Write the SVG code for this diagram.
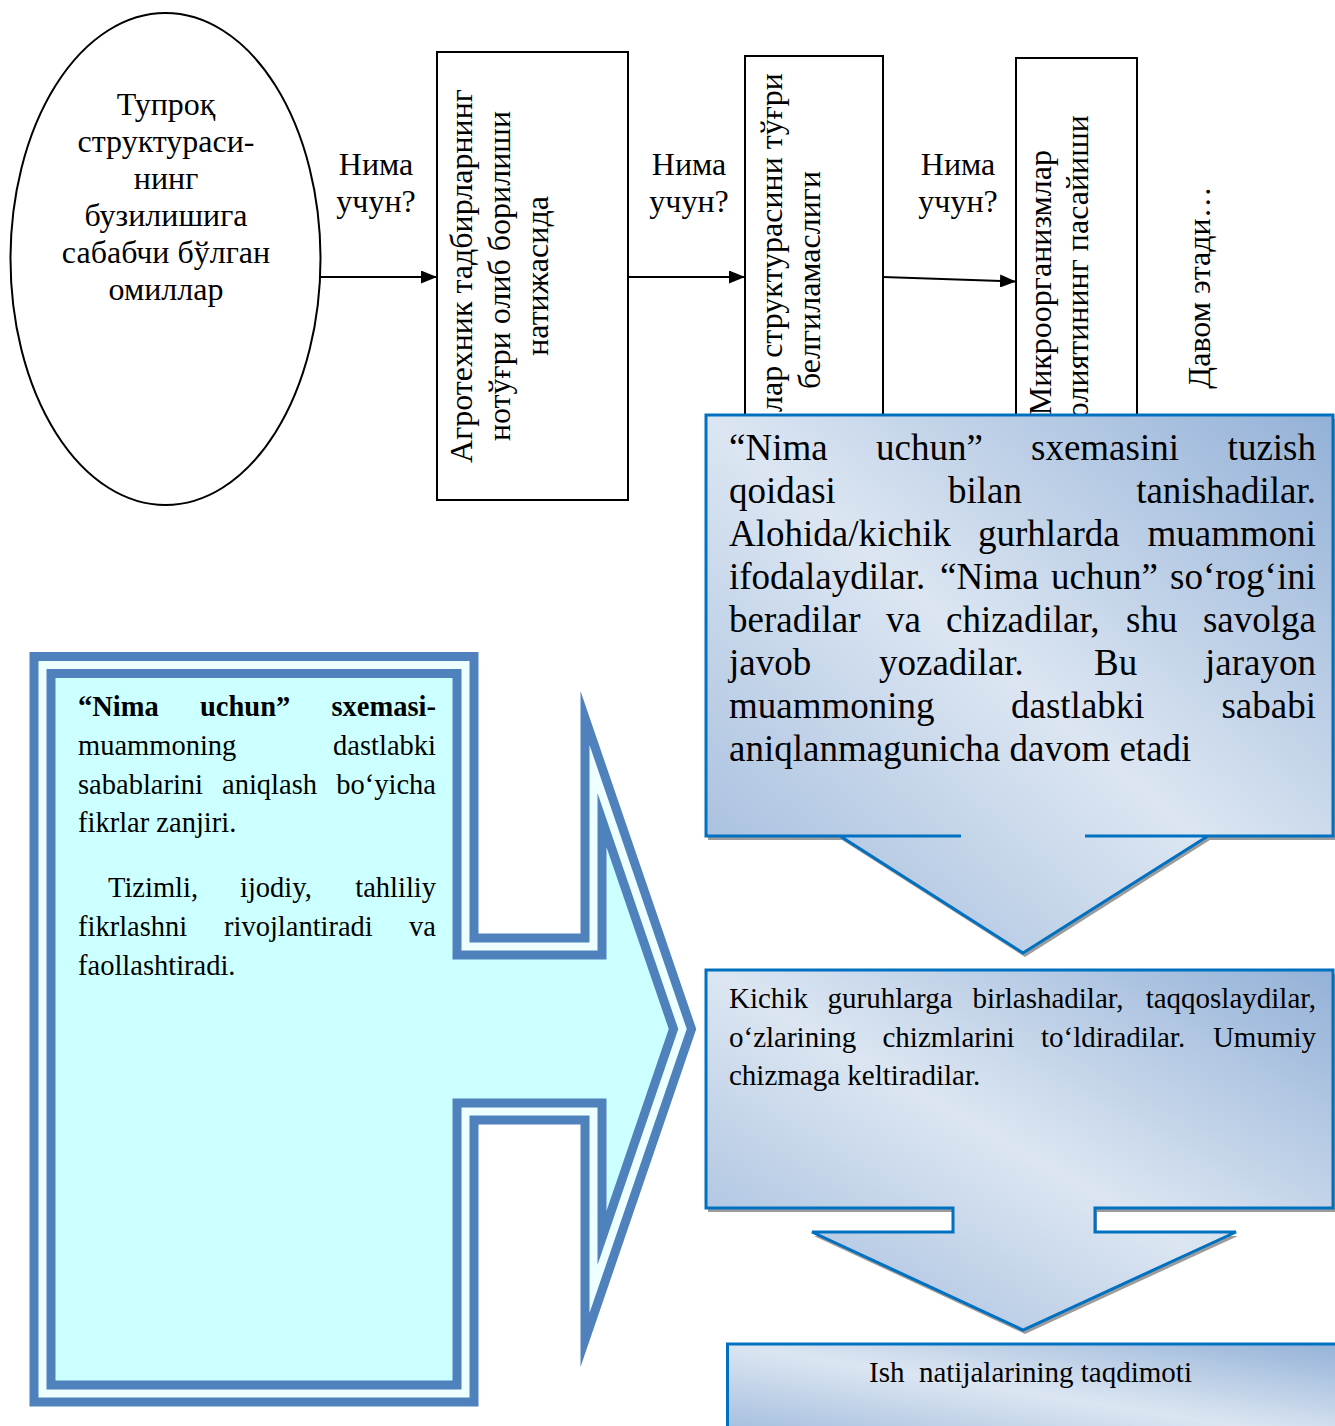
<svg xmlns="http://www.w3.org/2000/svg" width="1335" height="1426" viewBox="0 0 1335 1426">
<defs>
<linearGradient id="blueGrad" x1="0" y1="1" x2="1" y2="0">
<stop offset="0" stop-color="#9DB8DB"/>
<stop offset="0.5" stop-color="#DCE6F2"/>
<stop offset="1" stop-color="#93B1D7"/>
</linearGradient>
<marker id="arrow" markerWidth="16" markerHeight="13" refX="16" refY="6.5" orient="auto" markerUnits="userSpaceOnUse">
<path d="M0,0 L16,6.5 L0,13 Z" fill="#000"/>
</marker>
</defs>
<style>
text { font-family: "Liberation Serif", "Times New Roman", serif; fill: #000; }
.c32 { font-size: 32px; }
.c37 { font-size: 37px; }
.c29 { font-size: 29px; }
.c285 { font-size: 28.5px; }
.mid { text-anchor: middle; }
.end { text-anchor: end; }
.box { fill: #fff; stroke: #000; stroke-width: 2; }
.callout { fill: url(#blueGrad); stroke: #0070C0; stroke-width: 3; stroke-linejoin: miter; }
.shadow { fill: #9C9C9C; }
.conn { stroke: #000; stroke-width: 2.2; fill: none; marker-end: url(#arrow); }
.b { font-weight: bold; }
</style>

<!-- Top chain -->
<g id="node-ellipse">
<ellipse cx="165.5" cy="259" rx="155" ry="246" fill="#fff" stroke="#000" stroke-width="2"/>
<text class="c32 mid" x="166" y="115">Тупроқ</text>
<text class="c32 mid" x="166" y="152">структураси-</text>
<text class="c32 mid" x="166" y="189">нинг</text>
<text class="c32 mid" x="166" y="226">бузилишига</text>
<text class="c32 mid" x="166" y="263">сабабчи бўлган</text>
<text class="c32 mid" x="166" y="300">омиллар</text>
</g>

<g id="node-box1">
<rect class="box" x="437" y="52" width="191" height="448"/>
<text class="c32 mid" transform="translate(471.5,276) rotate(-90)">Агротехник тадбирларнинг</text>
<text class="c32 mid" transform="translate(510,276) rotate(-90)">нотўғри олиб борилиши</text>
<text class="c32 mid" transform="translate(548,276) rotate(-90)">натижасида</text>
</g>

<g id="node-box2">
<rect class="box" x="745" y="56" width="138" height="448"/>
<text class="c32 end" transform="translate(782,73) rotate(-90)">лар структурасини тўғри</text>
<text class="c32 mid" transform="translate(820,280) rotate(-90)">белгиламаслиги</text>
</g>

<g id="node-box3">
<rect class="box" x="1016" y="58" width="121" height="448"/>
<text class="c32 end" transform="translate(1051,150) rotate(-90)">Микроорганизмлар</text>
<text class="c32 end" transform="translate(1088,115) rotate(-90)">олиятининг пасайиши</text>
</g>

<g id="node-continue">
<text class="c32 mid" transform="translate(1210,287.5) rotate(-90)">Давом этади…</text>
</g>

<g id="connectors">
<line class="conn" x1="321" y1="277" x2="437" y2="277"/>
<line class="conn" x1="628" y1="277" x2="745" y2="277"/>
<line class="conn" x1="883" y1="277" x2="1016" y2="281.5"/>
</g>

<g id="labels">
<text class="c32 mid"><tspan x="376" y="175">Нима</tspan><tspan x="376" y="212">учун?</tspan></text>
<text class="c32 mid"><tspan x="689" y="175">Нима</tspan><tspan x="689" y="212">учун?</tspan></text>
<text class="c32 mid"><tspan x="958" y="175">Нима</tspan><tspan x="958" y="212">учун?</tspan></text>
</g>

<!-- Left right-arrow callout -->
<g id="node-left-arrow">
<path d="M42.5,665 H465.5 V946.5 H593.5 V769 L682.5,1029 L593.5,1289 V1111.5 H465.5 V1393.5 H42.5 Z" fill="#CCFFFF" stroke="#4F81BD" stroke-width="26" stroke-linejoin="miter" stroke-miterlimit="12"/>
<path d="M42.5,665 H465.5 V946.5 H593.5 V769 L682.5,1029 L593.5,1289 V1111.5 H465.5 V1393.5 H42.5 Z" fill="none" stroke="#EEFFFF" stroke-width="8" stroke-linejoin="miter" stroke-miterlimit="12"/>
<text class="c285 b" y="716"><tspan x="78">“Nima</tspan><tspan x="200">uchun”</tspan><tspan x="436" text-anchor="end">sxemasi-</tspan></text>
<text class="c285" y="755"><tspan x="78">muammoning</tspan><tspan x="436" text-anchor="end">dastlabki</tspan></text>
<text class="c285" y="794"><tspan x="78">sabablarini</tspan><tspan x="222">aniqlash</tspan><tspan x="436" text-anchor="end">bo‘yicha</tspan></text>
<text class="c285" x="78" y="832">fikrlar zanjiri.</text>
<text class="c285" y="897"><tspan x="108">Tizimli,</tspan><tspan x="240">ijodiy,</tspan><tspan x="436" text-anchor="end">tahliliy</tspan></text>
<text class="c285" y="936"><tspan x="78">fikrlashni</tspan><tspan x="224">rivojlantiradi</tspan><tspan x="436" text-anchor="end">va</tspan></text>
<text class="c285" x="78" y="975">faollashtiradi.</text>
</g>

<!-- Callout 1 -->
<g id="node-callout1">
<path class="shadow" transform="translate(2,4)" d="M706,415 H1333 V836 H1208 L1023,953 L840,836 H706 Z"/>
<path class="callout" d="M706,415 H1333 V836 H1085 H1208 L1023,953 L840,836 H961 H706 Z"/>
<text class="c37" y="460"><tspan x="729">“Nima</tspan><tspan x="876">uchun”</tspan><tspan x="1031">sxemasini</tspan><tspan x="1316" text-anchor="end">tuzish</tspan></text>
<text class="c37" y="503"><tspan x="729">qoidasi</tspan><tspan x="948">bilan</tspan><tspan x="1316" text-anchor="end">tanishadilar.</tspan></text>
<text class="c37" y="546"><tspan x="729">Alohida/kichik</tspan><tspan x="978">gurhlarda</tspan><tspan x="1316" text-anchor="end">muammoni</tspan></text>
<text class="c37" y="589"><tspan x="729">ifodalaydilar.</tspan><tspan x="940">“Nima</tspan><tspan x="1051">uchun”</tspan><tspan x="1316" text-anchor="end">so‘rog‘ini</tspan></text>
<text class="c37" y="632"><tspan x="729">beradilar</tspan><tspan x="886">va</tspan><tspan x="946">chizadilar,</tspan><tspan x="1126">shu</tspan><tspan x="1316" text-anchor="end">savolga</tspan></text>
<text class="c37" y="675"><tspan x="729">javob</tspan><tspan x="879">yozadilar.</tspan><tspan x="1094">Bu</tspan><tspan x="1316" text-anchor="end">jarayon</tspan></text>
<text class="c37" y="718"><tspan x="729">muammoning</tspan><tspan x="1011">dastlabki</tspan><tspan x="1316" text-anchor="end">sababi</tspan></text>
<text class="c37" x="729" y="761">aniqlanmagunicha davom etadi</text>
</g>

<!-- Callout 2 -->
<g id="node-callout2">
<path class="shadow" transform="translate(2,4)" d="M706,970 H1333 V1208 H1095 V1232 H1236 L1023,1330 L812,1232 H953 V1208 H706 Z"/>
<path class="callout" d="M706,970 H1333 V1208 H1095 V1232 H1236 L1023,1330 L812,1232 H953 V1208 H706 Z"/>
<text class="c29" y="1008"><tspan x="729">Kichik</tspan><tspan x="827.5">guruhlarga</tspan><tspan x="972.5">birlashadilar,</tspan><tspan x="1316" text-anchor="end">taqqoslaydilar,</tspan></text>
<text class="c29" y="1047"><tspan x="729">o‘zlarining</tspan><tspan x="882.5">chizmlarini</tspan><tspan x="1041">to‘ldiradilar.</tspan><tspan x="1316" text-anchor="end">Umumiy</tspan></text>
<text class="c29" x="729" y="1085">chizmaga keltiradilar.</text>
</g>

<!-- Bottom box -->
<g id="node-result">
<rect class="callout" x="727.5" y="1344" width="620" height="100"/>
<text class="c29" x="869" y="1382" style="white-space:pre">Ish  natijalarining taqdimoti</text>
</g>
</svg>
